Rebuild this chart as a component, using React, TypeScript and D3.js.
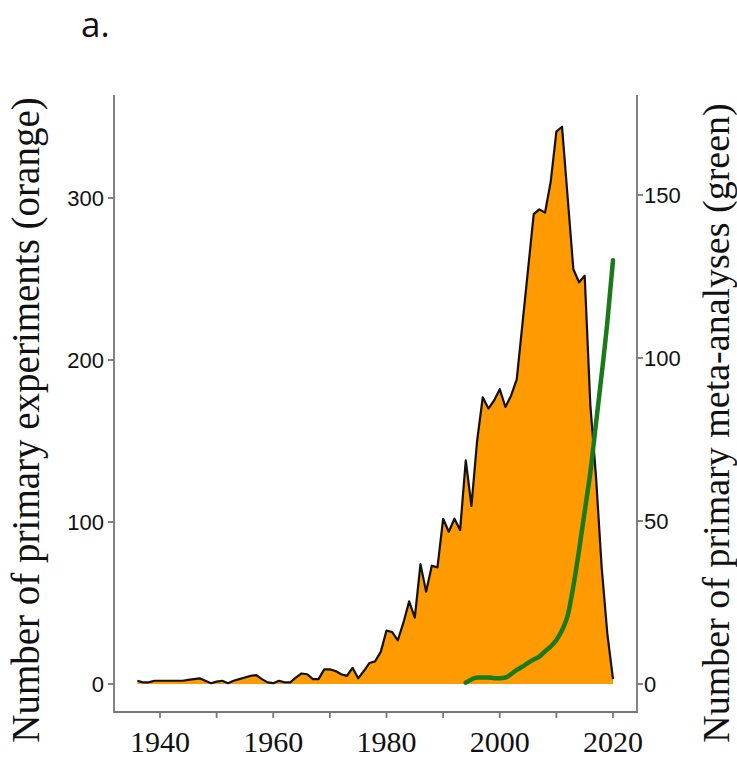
import React from 'react';
import * as d3 from 'd3';

// annual counts
const years = d3.range(1936, 2021);
const experiments = [
  2, 1, 1, 2, 2, 2, 2, 2, 2, 2.5,
  3, 3.5, 2, 0.5, 1.5, 2, 0.5, 2, 3, 4,
  5, 5.5, 3, 1, 0.5, 2, 1, 1, 4, 6.5,
  6, 3, 3, 9, 9, 8, 6, 5, 10, 3.5,
  8, 13, 14, 20, 33, 32, 27, 38, 51, 41,
  74, 57, 73, 72, 102, 94, 102, 95, 138, 110,
  150, 177, 170, 175, 182, 171, 178, 188, 222, 256,
  290, 293, 291, 310, 341, 344, 300, 256, 248, 252,
  172, 128, 72, 31, 3,
];

const metaYears = d3.range(1994, 2021);
const metaAnalyses = [
  0.4, 1.4, 2, 2, 2, 1.8, 1.8, 2, 3, 4.3,
  5.3, 6.5, 7.5, 8.4, 10, 11.5, 13.5, 16.5, 21, 30,
  41, 53, 65, 80, 95, 111, 130,
];

const xTicks = d3.range(1940, 2021, 10);
const xLabels = [1940, 1960, 1980, 2000, 2020];
const leftTicks = [0, 100, 200, 300];
const rightTicks = [0, 50, 100, 150];

const W = 737;
const H = 757;
const box = { left: 114, right: 637, top: 95, bottom: 712 };
const serif = '"Liberation Serif", "Times New Roman", serif';
const sans = '"Liberation Sans", Arial, sans-serif';

export default function App() {
  const x = d3.scaleLinear().domain([1940, 2020]).range([160, 613]);
  const yL = d3.scaleLinear().domain([0, 300]).range([684, 198]);
  const yR = d3.scaleLinear().domain([0, 150]).range([684, 195]);

  const expData = years.map((yr, i) => ({ yr, v: experiments[i] }));
  const metaData = metaYears.map((yr, i) => ({ yr, v: metaAnalyses[i] }));

  const area = d3.area<{ yr: number; v: number }>()
    .x(d => x(d.yr))
    .y0(yL(0))
    .y1(d => yL(d.v));
  const expLine = d3.line<{ yr: number; v: number }>()
    .x(d => x(d.yr))
    .y(d => yL(d.v));
  const metaLine = d3.line<{ yr: number; v: number }>()
    .x(d => x(d.yr))
    .y(d => yR(d.v))
    .curve(d3.curveMonotoneX);

  const axisColor = '#777';

  return (
    <div style={{ position: 'absolute', left: 0, top: 0 }}>
      <svg width={W} height={H} style={{ display: 'block', background: '#fff' }}>
        <text x={81} y={37} fontFamily='"Open Sans", sans-serif' fontSize={35} fill="#111">a.</text>

        <path d={area(expData) ?? ''} fill="#ff9a00" />
        <path d={expLine(expData) ?? ''} fill="none" stroke="#111" strokeWidth={2.2} strokeLinejoin="round" />
        <path d={metaLine(metaData) ?? ''} fill="none" stroke="#187a18" strokeWidth={4.5} strokeLinecap="round" />

        {/* frame: left, bottom, right */}
        <path
          d={`M${box.left},${box.top}V${box.bottom}H${box.right}V${box.top}`}
          fill="none" stroke={axisColor} strokeWidth={1.8}
        />

        {xTicks.map(t => (
          <line key={t} x1={x(t)} x2={x(t)} y1={box.bottom} y2={box.bottom + 6} stroke={axisColor} strokeWidth={1.8} />
        ))}
        {xLabels.map(t => (
          <text key={t} x={x(t)} y={752} textAnchor="middle" fontFamily={serif} fontSize={30} fill="#111">{t}</text>
        ))}

        {leftTicks.map(t => (
          <g key={t}>
            <line x1={box.left - 6} x2={box.left} y1={yL(t)} y2={yL(t)} stroke={axisColor} strokeWidth={1.8} />
            <text x={box.left - 10} y={yL(t)} dy="0.36em" textAnchor="end" fontFamily={sans} fontSize={22} fill="#111">{t}</text>
          </g>
        ))}
        {rightTicks.map(t => (
          <g key={t}>
            <line x1={box.right} x2={box.right + 6} y1={yR(t)} y2={yR(t)} stroke={axisColor} strokeWidth={1.8} />
            <text x={box.right + 7} y={yR(t)} dy="0.36em" textAnchor="start" fontFamily={sans} fontSize={22} fill="#111">{t}</text>
          </g>
        ))}

        <text transform="translate(39,420) rotate(-90)" textAnchor="middle" fontFamily={serif} fontSize={39} fill="#111">
          Number of primary experiments (orange)
        </text>
        <text transform="translate(729,423) rotate(-90)" textAnchor="middle" fontFamily={serif} fontSize={38} fill="#111">
          Number of primary meta-analyses (green)
        </text>
      </svg>
    </div>
  );
}
